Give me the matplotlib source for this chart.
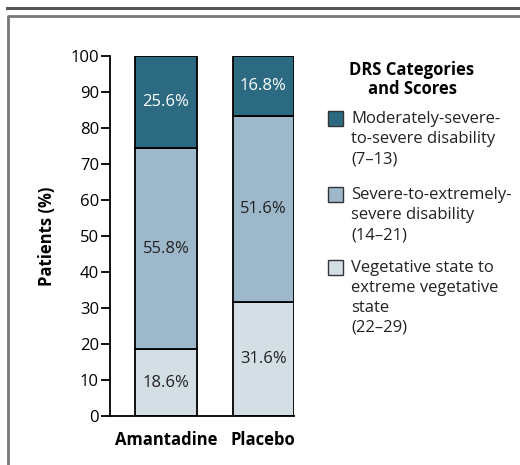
import matplotlib
matplotlib.use('Agg')
import matplotlib.pyplot as plt
from matplotlib.patches import Rectangle
from matplotlib.lines import Line2D

plt.rcParams['font.family'] = ['Open Sans', 'DejaVu Sans']

groups = ['Amantadine', 'Placebo']
vegetative = [18.6, 31.6]
severe_ext = [55.8, 51.6]
moderate = [25.6, 16.8]
yticks = [0, 10, 20, 30, 40, 50, 60, 70, 80, 90, 100]

legend_title = ['DRS Categories', 'and Scores']
legend_labels = [['Moderately-severe-', 'to-severe disability', '(7\u201313)'],
                 ['Severe-to-extremely-', 'severe disability', '(14\u201321)'],
                 ['Vegetative state to', 'extreme vegetative', 'state', '(22\u201329)']]

c_dark = '#2b6a80'
c_mid = '#9db8ca'
c_light = '#d3dee5'
fs = 12

W, H = 520, 465
fig = plt.figure(figsize=(5.2, 4.65), dpi=100)


def fx(px):
    return px / W


def fy(py):
    return 1 - py / H


# frame and top rule
fig.add_artist(Line2D([fx(7), 1], [fy(8), fy(8)], color='#555555', lw=2.2))
fig.add_artist(Line2D([fx(8), fx(8), 1], [0, fy(16), fy(16)], color='#777777', lw=2.0))

ax = fig.add_axes([fx(110), fy(416), (294 - 110) / W, (416 - 56) / H])

x = [0, 1]
w = 0.63
bottom2 = [a + b for a, b in zip(vegetative, severe_ext)]
ax.bar(x, vegetative, w, color=c_light, edgecolor='black', lw=1.3, zorder=2)
ax.bar(x, severe_ext, w, bottom=vegetative, color=c_mid, edgecolor='black', lw=1.3, zorder=2)
ax.bar(x, moderate, w, bottom=bottom2, color=c_dark, edgecolor='black', lw=1.3, zorder=2)

for i in range(2):
    ax.text(x[i], vegetative[i] / 2, '%.1f%%' % vegetative[i], ha='center', va='center',
            fontsize=fs, color='#222222')
    ax.text(x[i], vegetative[i] + severe_ext[i] / 2, '%.1f%%' % severe_ext[i], ha='center',
            va='center', fontsize=fs, color='#222222')
    ax.text(x[i], bottom2[i] + moderate[i] / 2, '%.1f%%' % moderate[i], ha='center',
            va='center', fontsize=fs, color='white')

ax.set_xlim(-0.575, 1 + w / 2)
ax.set_ylim(0, 100)
ax.set_yticks(yticks)
ax.set_xticks(x)
ax.set_xticklabels(groups, fontsize=fs, fontweight='bold')
ax.tick_params(axis='x', length=0, pad=11)
ax.tick_params(axis='y', length=6.5, width=1.3, labelsize=fs, pad=1.5)
ax.spines['top'].set_visible(False)
ax.spines['right'].set_visible(False)
for s in ['left', 'bottom']:
    ax.spines[s].set_linewidth(1.3)
ax.set_ylabel('Patients (%)', fontsize=fs, fontweight='bold', labelpad=10)

# legend
for k, line in enumerate(legend_title):
    fig.text(fx(412), fy(70 + 19 * k), line, ha='center', va='center', fontsize=fs,
             fontweight='bold')
colors = [c_dark, c_mid, c_light]
starts = [119, 195, 268]
for col, lines, s in zip(colors, legend_labels, starts):
    fig.add_artist(Rectangle((fx(328), fy(s + 7)), 15 / W, 15 / H, facecolor=col,
                             edgecolor='#333333', lw=1.0))
    for k, line in enumerate(lines):
        fig.text(fx(351), fy(s + 20 * k), line, ha='left', va='center', fontsize=fs,
                 color='#222222')

fig.savefig('out.png', dpi=100)
